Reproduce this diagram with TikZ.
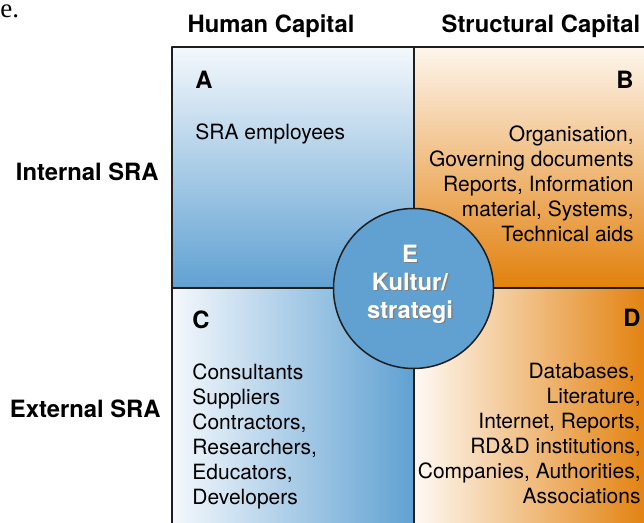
\documentclass[tikz,border=0pt]{standalone}
\usepackage{fontspec}
\setmainfont{TeX Gyre Heros}
\newfontfamily\pageserif{Liberation Serif}
\usetikzlibrary{positioning}

\definecolor{capblue}{RGB}{96,161,210}
\definecolor{capbluetop}{RGB}{244,248,252}
\definecolor{caporange}{RGB}{226,128,12}
\definecolor{caporangetop}{RGB}{254,246,237}
\definecolor{gridline}{RGB}{30,30,30}

\tikzset{
  head/.style={inner sep=0, font=\fontsize{11.9}{14}\selectfont\bfseries},
  body/.style={inner sep=0, font=\fontsize{10.5}{12.5}\selectfont},
  kultur/.style={inner sep=0, align=center, font=\fontsize{11.9}{14}\selectfont\bfseries},
  grid/.style={draw=gridline, line width=1pt}
}

\begin{document}
\begin{tikzpicture}[x=0.5pt, y=0.5pt, line join=round]
\useasboundingbox (0,0) rectangle (644,523);
\clip (0,0) rectangle (644,523);

% the four quadrants
\shade[top color=capbluetop, bottom color=capblue] (172,476) rectangle (413.5,234.5);
\shade[top color=caporangetop, bottom color=caporange] (413.5,476) rectangle (650,234.5);
\shade[left color=capbluetop, right color=capblue] (172,234.5) rectangle (413.5,-10);
\shade[left color=caporangetop!60!white, right color=caporange] (413.5,234.5) rectangle (650,-10);
\draw[grid] (172,-10) -- (172,476) -- (660,476)
  (413.5,476) -- (413.5,-10) (172,234.5) -- (660,234.5);

% column and row heads
\node[head, anchor=base] (human) at (271,490) {Human Capital};
\node[head, anchor=base] (struct) at (541,490) {Structural Capital};
\node[head, anchor=base east] (internal) at (159,342) {Internal SRA};
\node[head, anchor=base east] (external) at (161,105) {External SRA};

% quadrant texts
\node[head, anchor=base west] (A) at (195,434) {A};
\node[body, anchor=base west] (Atext) at (195,383) {SRA employees};
\node[head, anchor=base east] (B) at (634,434) {B};
\node[body, anchor=north east, align=right] (Btext) at (634,398)
  {Organisation,\\Governing documents\\Reports, Information\\material, Systems,\\Technical aids};
\node[head, anchor=base west] (C) at (192,194) {C};
\node[body, anchor=north west, align=left] (Ctext) at (192,160)
  {Consultants\\Suppliers\\Contractors,\\Researchers,\\Educators,\\Developers};
\node[head, anchor=base east] (D) at (641,196) {D};
\node[body, anchor=north east, align=right] (Dtext) at (641,160)
  {Databases,\kern0.28em\\Literature,\\Internet, Reports,\\RD\&D institutions,\\Companies, Authorities,\\Associations};

% centre circle
\node[circle, draw=gridline, line width=0.75pt, fill=capblue, minimum size=80pt, inner sep=0] (E) at (413.5,234.5) {};
\node[kultur, text=black!50, xshift=0.7pt, yshift=-0.7pt] (Eshadow) at (410,239) {E\\Kultur/\\strategi};
\node[kultur, text=white] (Etext) at (410,239) {E\\Kultur/\\strategi};

\node[inner sep=0, anchor=base west, font=\pageserif\fontsize{13.5}{16}\selectfont] (edge) at (0,505) {e.};
\end{tikzpicture}
\end{document}
